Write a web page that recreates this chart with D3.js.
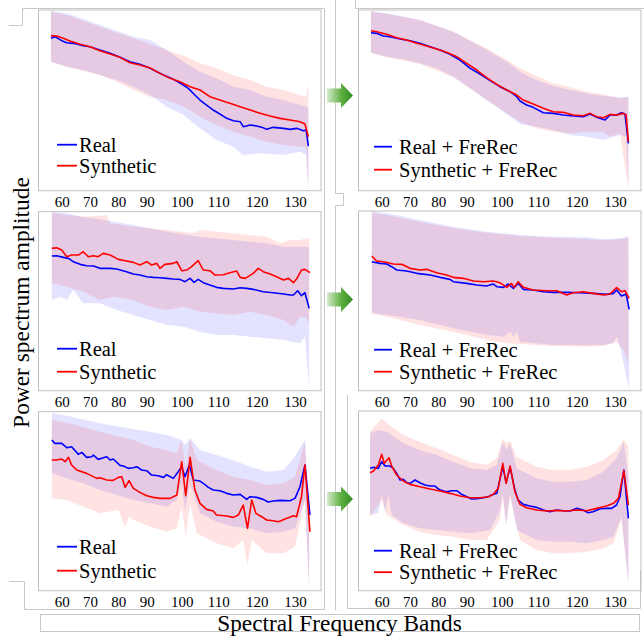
<!DOCTYPE html>
<html><head><meta charset="utf-8">
<script src="https://cdn.jsdelivr.net/npm/d3@7"></script>
<style>html,body{margin:0;padding:0;background:#fff;overflow:hidden}</style>
</head><body><svg id="c" width="644" height="637"></svg>
<script>
// ---------------- DATA ----------------
const freqTicks=[60,70,80,90,100,110,120,130];
const legendLeft=["Real","Synthetic"];
const legendRight=["Real + FreRec","Synthetic + FreRec"];
const yTitle="Power spectrum amplitude";
const xTitle="Spectral Frequency Bands";

// Panel 1: Real vs Synthetic (top)
const p1Real=[[56.2,45.7],[57.6,46.2],[60,45.0],[61.8,44.4],[64.1,44.2],[67.6,43.5],[70,43.2],[73.5,42.2],[77.1,41.2],[80.6,40.0],[84.1,38.7],[87.6,37.9],[91.0,36.7],[92.9,35.7],[94.8,34.7],[97.6,33.4],[100,32.0],[101.8,30.7],[103.6,28.7],[105.0,27.2],[106.8,25.7],[108.6,24.2],[110.4,23.0],[112.2,21.7],[113.9,21.0],[115.7,20.7],[116.5,19.2],[118.3,19.7],[120,19.4],[121.7,18.9],[122.6,18.4],[124.3,19.0],[127.0,18.7],[128.7,18.4],[130.4,18.7],[132.2,18.0],[132.9,18.2],[133.5,13.4]];
const p1Syn=[[56.2,46.5],[58.2,46.4],[60.6,45.7],[62.9,44.9],[66.5,43.9],[70,43.2],[73.5,42.0],[77.1,41.0],[80.6,40.0],[84.1,38.4],[87.6,37.7],[91.0,36.8],[93.8,35.2],[96.7,33.7],[99.5,32.7],[102.3,31.2],[105.0,30.2],[107.7,28.2],[110.4,27.2],[113.0,26.2],[115.7,25.2],[118.3,24.2],[120.9,23.2],[123.5,22.4],[126.1,21.7],[128.7,21.2],[131.3,20.7],[132.6,20.0],[133.5,16.2]];
const p1RealUp=[[56.2,53.9],[61.8,53.2],[73.5,49.7],[85.3,46.2],[91.0,45.2],[95.7,42.2],[100.5,38.7],[105.0,35.7],[109.5,33.7],[113.9,31.2],[118.3,30.2],[122.6,28.2],[127.0,27.2],[131.3,25.7],[132.9,25.2],[133.5,24.7]];
const p1RealLo=[[56.2,38.7],[61.8,37.2],[67.6,36.2],[73.5,34.7],[79.4,33.2],[85.3,31.2],[91.0,28.7],[95.7,25.2],[100.5,22.7],[105.0,18.7],[109.5,15.2],[113.9,13.2],[116.5,10.7],[120.9,11.2],[127.0,10.7],[131.3,11.7],[132.9,10.7],[133.5,0.2]];
const p1SynUp=[[56.2,53.7],[61.8,52.7],[73.5,49.2],[85.3,45.7],[95.7,42.2],[101.4,40.2],[105.0,38.2],[109.5,36.7],[113.9,34.7],[118.3,33.2],[122.6,31.2],[127.0,30.2],[131.3,28.7],[132.9,28.2],[133.5,32.2]];
const p1SynLo=[[56.2,38.7],[61.8,37.2],[73.5,34.7],[79.4,32.7],[85.3,30.2],[91.0,28.2],[95.7,27.2],[100.5,25.2],[105.0,22.2],[109.5,19.7],[113.9,17.7],[118.3,16.2],[122.6,14.7],[127.0,13.7],[131.3,13.2],[132.9,13.2],[133.5,0.2]];

// Panel 2: with FreRec (top)
const p2Real=[[56.2,47.4],[58.2,47.2],[60.6,46.4],[62.9,46.2],[66.5,45.5],[70,45.0],[73.5,44.2],[77.1,43.2],[80.6,42.2],[84.1,40.9],[87.6,39.2],[91.0,36.7],[93.8,35.0],[96.7,33.0],[99.5,31.2],[102.3,29.7],[104.1,28.2],[105.0,26.9],[106.8,25.7],[108.6,25.0],[111.3,23.4],[113.9,23.2],[116.5,22.7],[119.1,22.4],[121.7,22.2],[123.5,23.0],[125.2,22.0],[127.4,21.2],[128.7,22.7],[130.4,22.7],[131.7,23.4],[132.6,23.0],[133.5,14.2]];
const p2Syn=[[56.2,48.0],[58.2,47.7],[61.8,46.9],[65.3,45.9],[68.8,45.2],[72.4,44.2],[75.9,43.4],[79.4,42.5],[82.9,41.5],[86.5,40.2],[90,38.2],[92.9,36.2],[95.7,33.9],[98.6,31.9],[101.4,30.2],[104.1,28.7],[105.9,27.2],[108.6,26.0],[111.3,24.7],[113.9,23.7],[116.5,23.5],[119.1,22.7],[121.7,22.5],[123.5,23.2],[125.2,22.2],[127.0,21.9],[128.7,22.9],[130.4,22.7],[132.2,23.2],[132.9,22.7],[133.5,14.7]];
const p2RealUp=[[56.2,53.9],[61.8,53.2],[73.5,51.2],[85.3,47.7],[95.7,42.2],[101.4,38.7],[105.0,35.7],[109.5,33.2],[113.9,31.4],[118.3,30.2],[122.6,29.2],[127.0,28.4],[131.3,28.0],[133.5,28.2]];
const p2RealLo=[[56.2,41.4],[61.8,40.2],[67.6,39.4],[73.5,38.2],[79.4,36.7],[85.3,34.2],[91.0,30.7],[95.7,27.2],[100.5,23.7],[105.0,20.0],[109.5,19.2],[113.9,18.2],[118.3,16.7],[122.6,16.2],[127.0,15.2],[131.3,16.7],[132.9,16.2],[133.5,0.2]];
const p2SynUp=[[56.2,53.7],[61.8,53.0],[73.5,51.2],[85.3,47.7],[95.7,42.7],[101.4,39.2],[105.0,36.7],[109.5,34.4],[113.9,32.2],[118.3,31.0],[122.6,29.7],[127.0,28.9],[131.3,27.7],[133.5,28.0]];
const p2SynLo=[[56.2,41.4],[61.8,40.0],[73.5,38.0],[85.3,34.0],[95.7,27.2],[105.0,20.7],[109.5,18.7],[113.9,17.7],[118.3,17.2],[122.6,17.7],[127.0,17.7],[128.7,16.2],[131.3,17.2],[133.5,0.2]];

// Panel 3: Real vs Synthetic (middle)
const p3Real=[[56.5,40.4],[58.2,40.5],[60.6,40.0],[62.4,39.7],[64.1,38.7],[66.5,37.9],[68.8,37.5],[71.2,37.4],[73.5,36.7],[77.1,36.7],[79.4,36.5],[82.9,35.7],[85.3,35.0],[87.6,34.7],[90,34.2],[91.9,34.0],[93.8,33.9],[95.7,33.7],[97.6,33.5],[99.5,33.4],[100.9,32.7],[102.3,33.7],[103.4,32.5],[104.5,33.4],[105.9,32.4],[107.7,31.7],[109.5,31.0],[111.3,30.7],[113.9,30.5],[115.7,30.9],[117.4,30.7],[119.1,30.4],[121.7,29.7],[124.3,29.4],[127.0,29.0],[128.7,28.7],[129.6,28.7],[130.7,30.0],[131.7,28.5],[132.6,29.4],[133.7,24.7]];
const p3Syn=[[56.5,42.7],[58.2,42.9],[60,42.2],[61.8,40.2],[63.5,40.7],[65.9,40.7],[67.6,41.7],[69.4,40.2],[71.2,40.5],[72.9,40.2],[74.7,41.2],[77.1,40.7],[80,39.4],[82.9,38.9],[85.3,38.5],[87.6,37.7],[90,38.7],[91.4,37.7],[92.9,38.2],[93.8,36.7],[95.2,37.9],[97.6,38.2],[98.6,38.7],[100,36.0],[101.4,36.2],[102.7,37.2],[104.5,39.0],[105.9,36.2],[107.7,36.0],[109.1,34.7],[111.3,34.8],[113.0,35.4],[114.8,35.9],[115.7,34.0],[117.0,33.7],[119.1,35.2],[120.4,36.7],[121.7,35.7],[123.5,35.0],[125.2,34.2],[127.0,33.2],[128.3,33.7],[129.6,32.4],[130.4,33.5],[131.7,36.2],[132.6,36.4],[133.9,35.4]];
const p3RealUp=[[56.5,53.7],[61.8,53.2],[67.6,52.0],[73.5,51.4],[85.3,49.7],[95.7,47.7],[105.0,46.2],[113.9,45.2],[122.6,44.2],[127.0,43.2],[131.3,43.2],[133.7,43.2]];
const p3RealLo=[[56.5,27.2],[59.4,28.2],[61.8,27.2],[64.1,30.2],[67.6,26.2],[73.5,26.2],[79.4,24.2],[85.3,22.7],[91.0,21.2],[95.7,19.7],[100.5,19.2],[105.0,17.7],[109.5,16.7],[113.9,16.7],[118.3,16.2],[122.6,15.7],[127.0,15.2],[131.3,14.2],[132.6,16.2],[133.7,0.2]];
const p3SynUp=[[56.5,53.4],[61.8,52.7],[67.6,52.2],[75.9,52.7],[77.1,50.2],[85.3,49.2],[95.7,48.2],[103.2,47.2],[105.0,48.2],[113.9,47.2],[122.6,46.2],[126.1,44.2],[128.7,45.2],[131.3,45.2],[133.0,45.7],[133.7,45.7]];
const p3SynLo=[[56.5,32.2],[61.8,31.2],[67.6,29.7],[73.5,27.2],[78.2,28.2],[85.3,27.2],[91.0,25.2],[95.7,24.2],[100.5,25.2],[105.0,23.7],[109.5,23.2],[113.9,22.7],[118.3,23.7],[122.6,22.7],[127.0,21.2],[129.6,19.2],[131.3,22.2],[133.0,21.7],[133.7,20.2]];

// Panel 4: with FreRec (middle)
const p4Real=[[56.5,38.7],[59.4,38.2],[61.8,38.0],[63.5,37.2],[65.3,36.2],[68.8,35.9],[72.4,35.2],[77.1,34.7],[80.6,34.0],[84.1,33.4],[85.3,32.7],[90,32.2],[92.9,31.7],[95.7,31.4],[97.6,32.0],[98.6,31.2],[100.5,31.0],[101.8,32.0],[103.2,30.7],[104.5,32.2],[105.9,30.4],[108.6,30.2],[111.3,29.7],[113.9,29.5],[117.4,29.5],[120.9,29.4],[124.3,29.2],[127.8,28.9],[129.6,29.2],[130.4,30.2],[131.7,28.4],[132.9,29.0],[133.7,24.4]];
const p4Syn=[[56.5,40.4],[58.2,38.9],[60.6,38.7],[64.1,38.0],[67.1,37.9],[70,36.7],[73.5,36.2],[75.9,36.4],[79.4,35.4],[82.9,34.7],[85.3,34.0],[88.8,33.7],[91.9,32.9],[94.8,32.7],[97.6,32.9],[99.5,32.4],[101.4,31.0],[102.7,32.2],[103.4,31.0],[104.5,32.7],[105.9,31.0],[108.6,30.2],[112.2,30.0],[114.8,30.0],[117.4,28.7],[119.1,29.4],[121.7,29.7],[124.3,29.2],[127.0,28.7],[128.7,29.0],[130.4,30.9],[131.7,29.7],[132.6,30.0],[133.7,27.7]];
const p4RealUp=[[56.5,53.9],[61.8,53.2],[73.5,51.2],[85.3,49.2],[95.7,47.7],[105.0,46.7],[113.9,46.2],[122.6,46.0],[127.0,45.4],[131.3,45.7],[133.5,46.2]];
const p4RealLo=[[56.5,23.2],[61.8,22.7],[73.5,21.2],[85.3,18.7],[95.7,16.7],[100.5,16.2],[102.3,17.7],[103.2,16.2],[104.1,17.7],[105.0,14.7],[113.9,13.7],[122.6,13.7],[127.0,13.7],[129.6,14.2],[130.4,16.2],[131.3,13.2],[133.7,0.2]];
const p4SynUp=[[56.5,53.4],[61.8,52.7],[73.5,50.7],[85.3,48.7],[95.7,47.4],[105.0,46.4],[113.9,45.9],[122.6,45.4],[127.0,45.2],[131.3,45.4],[133.5,45.9]];
const p4SynLo=[[56.5,23.2],[61.8,22.2],[73.5,19.7],[85.3,17.7],[95.7,15.2],[101.4,14.2],[105.0,14.0],[113.9,13.4],[122.6,13.2],[127.0,13.4],[130.4,14.7],[132.2,12.2],[133.5,8.2]];

// Panel 5: Real vs Synthetic (bottom)
const p5Real=[[56.5,45.2],[57.6,44.2],[60,44.2],[61.8,42.9],[63.5,43.2],[65.9,40.9],[67.1,41.5],[68.8,40.0],[70.6,40.2],[71.2,40.7],[72.9,39.4],[74.7,39.9],[75.9,40.2],[77.1,39.2],[78.2,39.5],[80.6,37.6],[81.8,37.4],[83.5,36.7],[85.3,36.9],[86.5,37.2],[88.2,36.2],[90,36.0],[91.4,34.7],[93.3,34.5],[94.8,34.0],[95.7,34.8],[97.6,33.7],[99.0,35.7],[100,37.2],[100.9,34.2],[102.1,37.7],[103.2,33.2],[105.0,32.9],[105.9,32.2],[107.3,31.0],[108.6,30.2],[110.4,30.0],[112.2,29.2],[113.9,28.7],[115.7,28.9],[117.4,27.4],[118.3,28.2],[120,28.0],[121.7,27.4],[123.0,26.6],[124.3,26.9],[126.1,27.1],[128.7,27.0],[130,27.7],[131.3,31.2],[132.6,37.7],[133.9,22.7]];
const p5Syn=[[56.5,39.2],[58.2,39.2],[60,39.5],[61.2,38.7],[62.4,40.0],[63.5,37.7],[65.3,36.2],[68.8,35.2],[72.4,33.7],[73.5,33.9],[75.9,33.2],[78.2,33.1],[80,34.0],[81.2,34.2],[82.4,31.0],[83.8,33.0],[85.3,30.7],[87.6,29.5],[90,28.5],[91.9,28.0],[93.8,27.7],[96.7,27.7],[98.6,28.7],[100,38.7],[101.1,28.5],[102.3,40.0],[103.6,30.2],[105.0,26.2],[106.8,24.4],[108.6,23.9],[109.5,22.7],[112.2,22.4],[113.9,22.0],[115.2,22.7],[116.5,25.7],[117.6,18.7],[118.7,27.2],[119.8,23.2],[121.3,22.2],[122.6,21.2],[124.3,21.0],[125.7,20.7],[127.4,21.5],[129.6,22.5],[130.4,22.2],[131.7,28.2],[132.6,37.7],[133.9,17.7]];
const p5RealUp=[[56.5,53.2],[61.8,52.5],[73.5,50.2],[85.3,48.4],[91.0,47.7],[95.7,46.7],[98.6,45.7],[100,45.2],[100.9,43.7],[102.3,45.7],[105.0,42.2],[109.5,40.7],[113.9,39.2],[118.3,37.2],[122.6,35.7],[127.0,36.2],[129.6,39.7],[132.6,45.2],[133.7,26.2]];
const p5RealLo=[[56.5,35.2],[61.8,33.7],[67.6,32.2],[73.5,30.2],[79.4,28.7],[85.3,27.2],[91.0,26.2],[95.7,25.2],[98.6,27.2],[100,32.2],[100.9,24.2],[102.3,32.2],[105.0,23.2],[109.5,20.7],[113.9,19.2],[118.3,18.7],[122.6,17.2],[127.0,17.7],[130,18.7],[132.6,27.2],[133.7,0.2]];
const p5SynUp=[[56.5,51.2],[61.8,50.4],[73.5,47.7],[85.3,45.2],[91.0,43.2],[95.7,42.2],[98.6,41.2],[100,45.2],[101.1,36.7],[102.3,45.7],[104.1,39.2],[109.5,36.2],[113.9,34.2],[118.3,33.2],[122.6,31.7],[127.0,32.2],[130,34.2],[132.6,44.7],[133.7,22.2]];
const p5SynLo=[[56.5,27.7],[61.8,27.2],[67.6,25.2],[73.5,23.2],[80,24.2],[82.4,19.2],[83.8,22.2],[85.3,21.2],[91.0,19.2],[95.7,17.7],[98.6,18.7],[100,25.2],[101.1,16.2],[102.3,26.2],[104.1,17.2],[109.5,14.2],[113.9,12.7],[116.5,15.2],[117.6,7.7],[118.7,15.2],[122.6,11.2],[127.0,11.2],[130,13.2],[132.6,27.2],[133.7,0.2]];

// Panel 6: with FreRec (bottom)
const p6Real=[[55.9,36.7],[57.1,37.0],[58.8,36.7],[60,38.7],[61.2,37.4],[62.9,37.4],[64.1,36.7],[65.3,35.2],[66.5,33.2],[67.6,33.4],[68.8,32.4],[70,32.2],[71.8,33.2],[73.5,32.4],[75.3,31.7],[77.1,31.4],[78.8,31.4],[80.6,30.2],[82.9,29.7],[84.7,30.0],[86.5,30.0],[88.2,28.9],[90,28.2],[91.4,27.5],[92.9,27.6],[94.8,27.9],[96.2,28.2],[97.1,28.7],[98.6,29.2],[100.3,37.2],[101.2,32.4],[102.3,37.0],[103.6,30.2],[104.5,27.2],[105.9,25.9],[107.7,25.4],[109.5,25.0],[111.3,24.2],[113.0,23.7],[114.8,24.2],[116.5,24.0],[118.3,23.9],[120,24.7],[121.7,24.2],[123.0,23.4],[124.3,23.7],[126.1,24.6],[127.8,24.7],[129.1,24.7],[130.4,25.7],[131.3,28.2],[132.3,36.2],[133.5,21.7]];
const p6Syn=[[55.9,35.4],[57.1,35.9],[58.8,37.7],[60,40.9],[60.9,38.2],[62.6,39.9],[63.5,37.4],[65.3,34.7],[67.6,32.9],[70,31.9],[73.5,31.2],[77.1,30.5],[80.6,29.9],[84.1,29.2],[87.6,28.4],[91.0,27.9],[93.8,27.9],[96.2,28.2],[97.6,28.9],[99.0,30.7],[100.3,38.2],[101.2,32.2],[102.3,37.4],[103.6,29.7],[105.0,25.9],[106.8,24.9],[109.5,24.2],[112.2,23.9],[114.8,24.1],[117.4,23.9],[120,24.2],[122.6,24.0],[125.2,24.7],[127.8,25.4],[129.6,26.2],[130.9,27.7],[132.3,36.0],[133.5,25.7]];
const p6RealUp=[[55.9,47.2],[58.8,48.2],[61.8,47.7],[67.6,44.2],[73.5,42.2],[79.4,40.7],[85.3,38.7],[91.0,36.7],[95.7,36.2],[98.6,37.7],[100.3,44.7],[101.2,42.2],[102.3,44.2],[104.1,36.7],[109.5,33.7],[113.9,32.7],[118.3,32.7],[122.6,33.2],[127.0,35.7],[130.4,39.7],[132.3,44.7],[133.5,34.2]];
const p6RealLo=[[55.9,22.7],[58.8,23.2],[60,28.7],[61.2,23.7],[62.4,28.7],[63.5,22.7],[67.6,20.2],[73.5,18.7],[79.4,18.2],[85.3,17.7],[91.0,17.2],[96.7,18.2],[99.5,24.2],[100.3,29.2],[101.2,20.2],[102.3,29.2],[104.1,18.2],[109.5,15.2],[113.9,14.7],[118.3,14.7],[122.6,14.2],[127.0,15.2],[129.6,16.2],[131.7,22.2],[133.5,2.2]];
const p6SynUp=[[55.9,47.7],[60,51.7],[61.8,50.2],[67.6,46.7],[73.5,44.7],[79.4,42.7],[85.3,40.7],[91.0,38.7],[95.7,37.7],[98.6,39.7],[100.3,45.7],[101.2,44.2],[102.3,44.9],[104.1,40.2],[109.5,37.2],[113.9,36.2],[118.3,36.2],[122.6,37.2],[127.0,39.2],[130.4,42.2],[132.3,45.4],[133.5,43.2]];
const p6SynLo=[[55.9,22.2],[60,27.2],[61.8,22.7],[67.6,19.7],[73.5,17.7],[79.4,16.7],[85.3,16.2],[91.0,15.2],[95.7,15.2],[99.5,21.2],[100.3,28.2],[101.2,19.2],[102.3,28.2],[105.0,15.2],[109.5,12.2],[113.9,11.2],[118.3,11.2],[122.6,11.7],[127.0,12.7],[129.6,14.2],[131.7,21.2],[133.5,2.2]];

// y-domain maxima (arbitrary amplitude units) per panel
const yMaxes=[54.2,54.2,53.7,53.9,53.7,53.9];

// ---------------- LAYOUT ----------------
const svg=d3.select("#c");
const FONT="'Liberation Serif','Times New Roman',serif";
const BLUE="#0000ff", RED="#ff0000";
const colOff=[0,320], rowOff=[0,200,400];
const boxTop=[10,10,11.7,11,11.7,11];
const tickPix=[61.7,90,118.3,146.7,181.7,218.3,256.7,295];
const legendOff=[[46,25],[44,21],[42,19],[41,19],[44,20],[40,18.5]];

const panels=[
 {real:p1Real,syn:p1Syn,ru:p1RealUp,rl:p1RealLo,su:p1SynUp,sl:p1SynLo,c:0,r:0,leg:legendLeft},
 {real:p2Real,syn:p2Syn,ru:p2RealUp,rl:p2RealLo,su:p2SynUp,sl:p2SynLo,c:1,r:0,leg:legendRight},
 {real:p3Real,syn:p3Syn,ru:p3RealUp,rl:p3RealLo,su:p3SynUp,sl:p3SynLo,c:0,r:1,leg:legendLeft},
 {real:p4Real,syn:p4Syn,ru:p4RealUp,rl:p4RealLo,su:p4SynUp,sl:p4SynLo,c:1,r:1,leg:legendRight},
 {real:p5Real,syn:p5Syn,ru:p5RealUp,rl:p5RealLo,su:p5SynUp,sl:p5SynLo,c:0,r:2,leg:legendLeft},
 {real:p6Real,syn:p6Syn,ru:p6RealUp,rl:p6RealLo,su:p6SynUp,sl:p6SynLo,c:1,r:2,leg:legendRight}
];

// decorative frame lines
const frame=svg.append("g").attr("fill","none").attr("stroke","#c8c8c8").attr("stroke-width",1);
frame.append("path").attr("d","M9,25.5H22.5V8.5H324.5V609.5H24.5V581.5H9");
frame.append("path").attr("d","M335.5,0V193.5H343.5V205.5H335.5V610");
frame.append("path").attr("d","M347.5,395V608.5H640.5V570");
frame.append("path").attr("d","M355.5,0V8.5H644");
frame.append("rect").attr("x",40.5).attr("y",614.5).attr("width",599).attr("height",17);

const defs=svg.append("defs");
const gr=defs.append("linearGradient").attr("id","ag").attr("x1","0").attr("x2","1").attr("y1","0").attr("y2","0");
gr.append("stop").attr("offset","0").attr("stop-color","#d4ebcc");
gr.append("stop").attr("offset","0.55").attr("stop-color","#5fae42");
gr.append("stop").attr("offset","1").attr("stop-color","#2f8e1f");

panels.forEach((p,i)=>{
  const ox=colOff[p.c], oy=rowOff[p.r];
  const x0=ox+38.5, x1=ox+321, top=oy+boxTop[i], bot=oy+190.7;
  const x=d3.scaleLinear().domain(freqTicks).range(tickPix.map(v=>v+ox));
  const y=d3.scaleLinear().domain([0,yMaxes[i]]).range([bot,top]);
  const g=svg.append("g");
  const cid="clip"+i;
  defs.append("clipPath").attr("id",cid).append("rect").attr("x",x0).attr("y",top).attr("width",x1-x0).attr("height",bot-top);
  const line=d3.line().x(d=>x(d[0])).y(d=>y(d[1]));
  const plot=g.append("g").attr("clip-path",`url(#${cid})`);
  const band=(up,lo)=>line(up.concat(lo.slice().reverse()))+"Z";
  plot.append("path").attr("d",band(p.ru,p.rl)).attr("fill",BLUE).attr("fill-opacity",0.11);
  plot.append("path").attr("d",band(p.su,p.sl)).attr("fill",RED).attr("fill-opacity",0.11);
  plot.append("path").attr("d",line(p.real)).attr("fill","none").attr("stroke",BLUE).attr("stroke-width",1.6).attr("stroke-linejoin","round");
  plot.append("path").attr("d",line(p.syn)).attr("fill","none").attr("stroke",RED).attr("stroke-width",1.6).attr("stroke-linejoin","round");
  g.append("rect").attr("x",x0).attr("y",top).attr("width",x1-x0).attr("height",bot-top)
    .attr("fill","none").attr("stroke","#c0c0c0").attr("stroke-width",1);
  // axis
  const ax=g.append("g").attr("transform",`translate(0,${bot})`)
    .call(d3.axisBottom(x).tickValues(freqTicks).tickSize(0).tickPadding(5.3).tickFormat(d3.format("d")));
  ax.select(".domain").remove();
  ax.selectAll("text").attr("font-family",FONT).attr("font-size","15px").attr("fill","#000");
  // legend
  const lx=p.c===0?[ox+57,ox+77]:[ox+54,ox+72];
  [BLUE,RED].forEach((col,k)=>{
    const ly=bot-legendOff[i][k];
    g.append("line").attr("x1",lx[0]).attr("x2",lx[1]).attr("y1",ly).attr("y2",ly).attr("stroke",col).attr("stroke-width",1.8);
    g.append("text").attr("x",ox+79).attr("y",ly+7).attr("font-family",FONT).attr("font-size","20.5px").attr("fill","#000").text(p.leg[k]);
  });
});

// arrows
[95.5,299.5,499].forEach(cy=>{
  svg.append("path").attr("d",`M327,${cy-7}H341V${cy-12.5}L353,${cy}L341,${cy+12.5}V${cy+7}H327Z`).attr("fill","url(#ag)");
});

// titles
svg.append("text").attr("transform","translate(28.6,302.5) rotate(-90)").attr("text-anchor","middle")
  .attr("font-family",FONT).attr("font-size","23.4px").attr("fill","#000").text(yTitle);
svg.append("text").attr("x",339.5).attr("y",631).attr("text-anchor","middle")
  .attr("font-family",FONT).attr("font-size","23.3px").attr("fill","#000").text(xTitle);
</script></body></html>
